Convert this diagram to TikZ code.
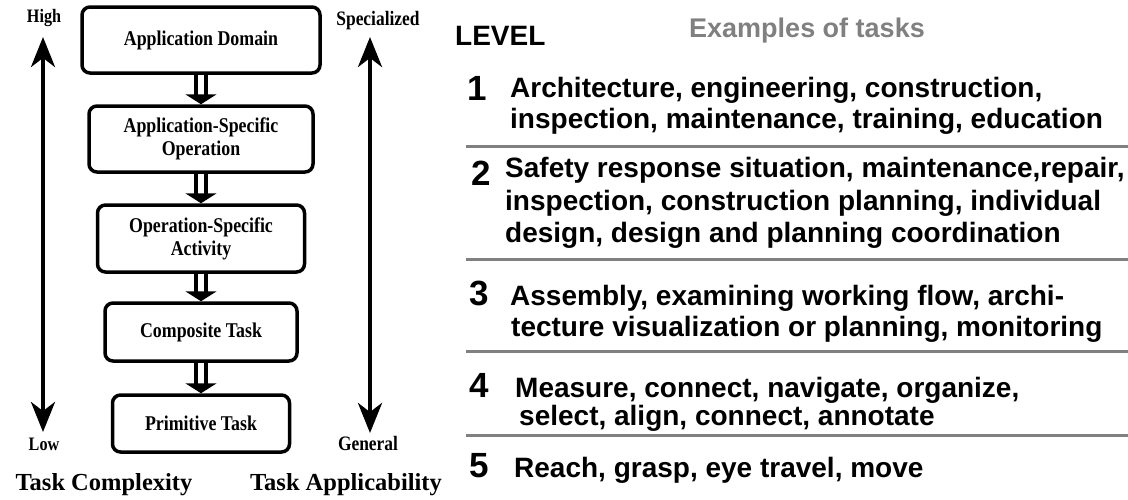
\documentclass[tikz,border=0pt]{standalone}
\usepackage{fontspec}
\setmainfont{Liberation Serif}
\newfontfamily\arialfont{Liberation Sans}
\newfontfamily\stagefont{Liberation Serif}[FakeStretch=0.85]
\usetikzlibrary{positioning,arrows.meta}
\definecolor{sepgray}{RGB}{128,128,128}
\tikzset{
  every node/.style={
    font=\bfseries
  },
  stage/.style={
    draw, line width=3.5pt, rounded corners=8pt, align=center,
    inner sep=0pt, font=\stagefont\bfseries\fontsize{21}{23}\selectfont
  },
  dblarrow/.style={
    double distance=6.5pt, line width=3.5pt,
    -{Triangle[length=10pt,width=31pt]}
  },
  axisarrow/.style={
    line width=4pt, {Stealth[length=30pt,width=24pt,inset=9pt]}-{Stealth[length=30pt,width=24pt,inset=9pt]}
  },
  endlabel/.style={font=\stagefont\bfseries\fontsize{19}{21}\selectfont},
  axislabel/.style={font=\bfseries\fontsize{24.5}{28}\selectfont},
  levelnum/.style={anchor=base, inner sep=0pt, font=\arialfont\bfseries\fontsize{35}{36}\selectfont},
  task/.style={anchor=base west, inner sep=0pt, font=\arialfont\bfseries\fontsize{28}{32}\selectfont}
}

\begin{document}
\begin{tikzpicture}[x=1pt,y=-1pt]
      \useasboundingbox (0,0) rectangle (1128,499);

      % stages of the task hierarchy
      \node [stage, minimum width=238pt, minimum height=66pt] (S1) at (201,40) {Application Domain};
      \node [stage, on grid, below=99pt of S1, minimum width=224pt, minimum height=66pt] (S2) {Application-Specific\\Operation};
      \node [stage, on grid, below=99.5pt of S2, minimum width=207pt, minimum height=67pt] (S3) {Operation-Specific\\Activity};
      \node [stage, on grid, below=93.5pt of S3, minimum width=192pt, minimum height=58pt] (S4) {Composite Task};
      \node [stage, on grid, below=91.5pt of S4, minimum width=177pt, minimum height=57pt] (S5) {Primitive Task};
      \draw [dblarrow] (S1.south) -- (S2.north);
      \draw [dblarrow] (S2.south) -- (S3.north);
      \draw [dblarrow] (S3.south) -- (S4.north);
      \draw [dblarrow] (S4.south) -- (S5.north);

      % the two scales
      \coordinate (CTop) at (43,37);
      \coordinate (CBot) at (43,432);
      \coordinate (ATop) at (370,37);
      \coordinate (ABot) at (370,433);
      \draw [axisarrow] (CBot) -- (CTop);
      \draw [axisarrow] (ABot) -- (ATop);
      \node [endlabel] (High) at (44,18) {High};
      \node [endlabel] (Low) at (44,444) {Low};
      \node [endlabel, font=\stagefont\bfseries\fontsize{20.5}{22}\selectfont] (Spec) at (378,21) {Specialized};
      \node [endlabel, font=\stagefont\bfseries\fontsize{20.5}{22}\selectfont] (Gen) at (368,443) {General};
      \node [axislabel] (Complexity) at (104,485) {Task Complexity};
      \node [axislabel] (Applicability) at (346,485) {Task Applicability};

      % table of levels
      \node [task] (Level) at (455,45) {LEVEL};
      \node [task, font=\arialfont\bfseries\fontsize{27}{30}\selectfont, text=sepgray] (Examples) at (689,37) {Examples of tasks};
      \foreach \y in {146,259,351,435}
        \draw [sepgray, line width=3pt] (466,\y) -- (1128,\y);

      \node [levelnum] (N1) at (477,100) {1};
      \node [task] (T1a) at (510,97) {Architecture, engineering, construction,};
      \node [task] (T1b) at (510,128) {inspection, maintenance, training, education};

      \node [levelnum] (N2) at (481,185) {2};
      \node [task] (T2a) at (505,177) {Safety response situation, maintenance,repair,};
      \node [task] (T2b) at (505,210) {inspection, construction planning, individual};
      \node [task] (T2c) at (505,242) {design, design and planning coordination};

      \node [levelnum] (N3) at (479,305) {3};
      \node [task] (T3a) at (510,305) {Assembly, examining working flow, archi-};
      \node [task] (T3b) at (511,336) {tecture visualization or planning, monitoring};

      \node [levelnum] (N4) at (479,397) {4};
      \node [task] (T4a) at (515,397) {Measure, connect, navigate, organize,};
      \node [task] (T4b) at (519,425) {select, align, connect, annotate};

      \node [levelnum] (N5) at (479,477) {5};
      \node [task] (T5) at (514,477) {Reach, grasp, eye travel, move};
    \end{tikzpicture}
\end{document}
